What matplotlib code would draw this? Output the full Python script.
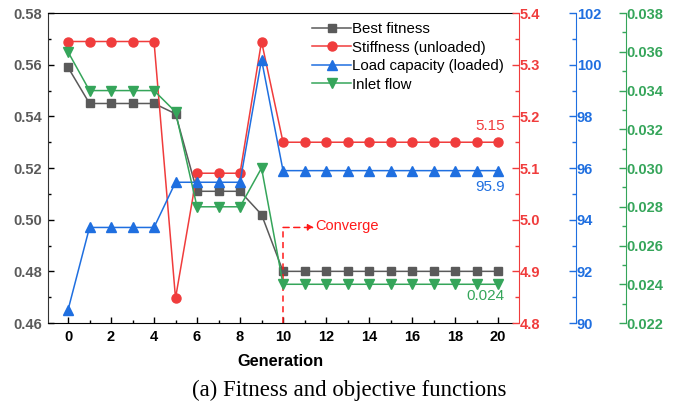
import matplotlib
matplotlib.use("Agg")
import matplotlib.pyplot as plt
from matplotlib.ticker import MultipleLocator

plt.rcParams['font.family'] = ['Liberation Sans', 'DejaVu Sans']

gen = list(range(21))
fitness = [0.559, 0.545, 0.545, 0.545, 0.545, 0.541, 0.511, 0.511, 0.511, 0.502] + [0.480] * 11
stiffness = [5.345, 5.345, 5.345, 5.345, 5.345, 4.848, 5.09, 5.09, 5.09, 5.345] + [5.15] * 11
load = [90.5, 93.7, 93.7, 93.7, 93.7, 95.45, 95.45, 95.45, 95.45, 100.2] + [95.9] * 11
flow = [0.036, 0.034, 0.034, 0.034, 0.034, 0.0329, 0.028, 0.028, 0.028, 0.030] + [0.024] * 11

c_gray = '#5a5a5a'
c_red = '#f03c3c'
c_blue = '#1f6fe0'
c_green = '#35a55a'

fig = plt.figure(figsize=(6.79, 4.03), dpi=100)
ax = fig.add_axes([0.0707, 0.1985, 0.685, 0.769])

ax_r = ax.twinx()
ax_b = ax.twinx()
ax_g = ax.twinx()

l1, = ax.plot(gen, fitness, '-s', color=c_gray, lw=1.1, ms=5.5, label='Best fitness')
l2, = ax_r.plot(gen, stiffness, '-o', color=c_red, lw=1.1, ms=6.5, label='Stiffness (unloaded)')
l3, = ax_b.plot(gen, load, '-^', color=c_blue, lw=1.1, ms=7, label='Load capacity (loaded)')
l4, = ax_g.plot(gen, flow, '-v', color=c_green, lw=1.1, ms=7, label='Inlet flow')

ax.set_xlim(-0.93, 20.7)
ax.set_ylim(0.46, 0.58)
ax_r.set_ylim(4.8, 5.4)
ax_b.set_ylim(90, 102)
ax_g.set_ylim(0.022, 0.038)

ax.xaxis.set_major_locator(MultipleLocator(2))
ax.xaxis.set_minor_locator(MultipleLocator(1))
ax.yaxis.set_major_locator(MultipleLocator(0.02))
ax.yaxis.set_minor_locator(MultipleLocator(0.01))
ax.yaxis.set_major_formatter(matplotlib.ticker.FormatStrFormatter('%.2f'))
ax_r.yaxis.set_major_locator(MultipleLocator(0.1))
ax_r.yaxis.set_minor_locator(MultipleLocator(0.05))
ax_r.yaxis.set_major_formatter(matplotlib.ticker.FormatStrFormatter('%.1f'))
ax_b.yaxis.set_major_locator(MultipleLocator(2))
ax_b.yaxis.set_minor_locator(MultipleLocator(1))
ax_g.yaxis.set_major_locator(MultipleLocator(0.002))
ax_g.yaxis.set_minor_locator(MultipleLocator(0.001))
ax_g.yaxis.set_major_formatter(matplotlib.ticker.FormatStrFormatter('%.3f'))

# main axes look
ax.spines['right'].set_visible(False)
for a in (ax_r, ax_b, ax_g):
    for s in ('left', 'top', 'bottom'):
        a.spines[s].set_visible(False)
ax.spines['left'].set_color('#333333')

ax.tick_params(axis='both', which='major', direction='in', length=4, width=1,
               labelsize=10.5)
ax.tick_params(axis='both', which='minor', direction='in', length=2.5, width=1)
ax.tick_params(axis='y', labelcolor=c_gray, pad=4)
ax.tick_params(axis='x', pad=5)
for t in ax.get_xticklabels() + ax.get_yticklabels():
    t.set_fontweight('bold')

# right axes
px = 72 / 100
ax_r.spines['right'].set_position(('outward', 6 * px))
ax_b.spines['right'].set_position(('outward', 63 * px))
ax_g.spines['right'].set_position(('outward', 113 * px))
for a, c in ((ax_r, c_red), (ax_b, c_blue), (ax_g, c_green)):
    a.spines['right'].set_color(c)
    a.tick_params(axis='y', which='major', direction='in', length=5, width=1,
                  color=c, labelcolor=c, labelsize=10.5, pad=0.5)
    a.tick_params(axis='y', which='minor', direction='in', length=3, width=1, color=c)
    for t in a.get_yticklabels():
        t.set_fontweight('bold')

ax.set_xlabel('Generation', fontsize=11.8, fontweight='bold', labelpad=7)

# converge marker
ax.plot([10, 10], [0.46, 0.497], '--', color='#ff1a1a', lw=1.1, dashes=(4, 3))
ax.annotate('', xy=(11.45, 0.497), xytext=(10, 0.497),
            arrowprops=dict(arrowstyle='-|>', color='#ff1a1a', lw=1.1,
                            linestyle=(0, (4, 3)), mutation_scale=9,
                            shrinkA=0, shrinkB=0))
ax.text(11.5, 0.4975, 'Converge', color='#ff1a1a', fontsize=10.5, va='center', ha='left')

# end value labels
ax_r.text(20.3, 5.167, '5.15', color=c_red, fontsize=11, ha='right', va='bottom')
ax_b.text(20.3, 95.55, '95.9', color=c_blue, fontsize=11, ha='right', va='top')
ax_g.text(20.3, 0.02375, '0.024', color=c_green, fontsize=11, ha='right', va='top')

ax_g.legend(handles=[l1, l2, l3, l4], loc='upper right', frameon=False,
            fontsize=10.8, handlelength=2.6, handletextpad=0.05,
            labelspacing=0.3, borderaxespad=0.2, bbox_to_anchor=(1.0, 1.0))

fig.text(0.515, 0.006, '(a) Fitness and objective functions',
         family='Liberation Serif', fontsize=16.4, ha='center', va='bottom')

fig.savefig('out.png', dpi=100)
